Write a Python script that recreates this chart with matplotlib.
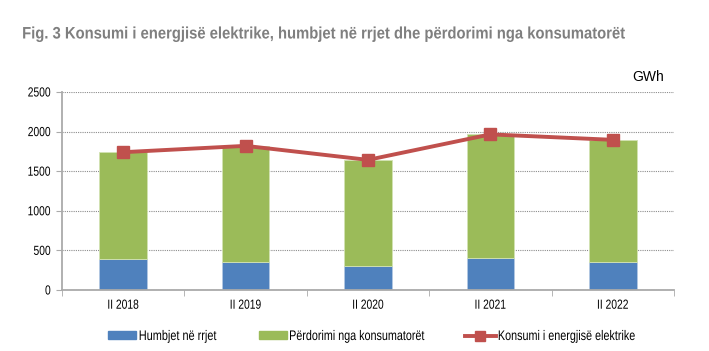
import matplotlib
matplotlib.use("Agg")
import matplotlib.pyplot as plt
from matplotlib.lines import Line2D
from matplotlib.patches import Patch
from matplotlib.patheffects import AbstractPathEffect
from matplotlib.transforms import Affine2D
import numpy as np

categories = ["II 2018", "II 2019", "II 2020", "II 2021", "II 2022"]
losses = [387, 357, 307, 399, 357]
usage = [1353, 1463, 1336, 1566, 1539]
consumption = [1740, 1820, 1643, 1965, 1896]
yticks = [0, 500, 1000, 1500, 2000, 2500]
legend_labels = ["Humbjet në rrjet", "Përdorimi nga konsumatorët", "Konsumi i energjisë elektrike"]
title_text = "Fig. 3 Konsumi i energjisë elektrike, humbjet në rrjet dhe përdorimi nga konsumatorët"

plt.rcParams['font.family'] = ['Liberation Sans', 'DejaVu Sans']

W, H = 709, 351


class Squeeze(AbstractPathEffect):
    """Horizontally condense the glyphs (Arial Narrow look)."""
    def __init__(self, sx, anchor='left'):
        super().__init__()
        self.sx = sx
        self.anchor = anchor

    def draw_path(self, renderer, gc, tpath, affine, rgbFace=None):
        bb = tpath.get_extents(affine)
        x0 = {'left': bb.x0, 'center': 0.5 * (bb.x0 + bb.x1), 'right': bb.x1}[self.anchor]
        new = affine + Affine2D().translate(-x0, 0).scale(self.sx, 1).translate(x0, 0)
        renderer.draw_path(gc, tpath, new, rgbFace)


fig = plt.figure(figsize=(W / 100, H / 100), dpi=100)
ax = fig.add_axes([62 / W, 1 - 290 / H, 612 / W, (290 - 92) / H])

x = np.arange(len(categories))
blue = "#4F81BD"; green = "#9BBB59"; red = "#C0504D"
ax.bar(x, losses, width=0.39, color=blue, edgecolor="#b3c8e2", linewidth=0.6, zorder=2)
ax.bar(x, usage, bottom=losses, width=0.39, color=green, edgecolor="#d3e3b3", linewidth=0.6, zorder=2)
ax.plot(x, consumption, color=red, linewidth=2.8, marker="s", markersize=8.5, zorder=3)

ax.set_xlim(-0.5, len(categories) - 0.5)
ax.set_ylim(0, 2500)
ax.set_yticks(yticks)
ax.set_yticklabels([str(v) for v in yticks], fontsize=9.5)
ax.set_xticks(x)
ax.set_xticklabels(categories, fontsize=9.5)
for t in ax.get_yticklabels():
    t.set_path_effects([Squeeze(0.78, 'right')])
for t in ax.get_xticklabels():
    t.set_path_effects([Squeeze(0.78, 'center')])
ax.set_xticks(np.arange(len(categories) + 1) - 0.5, minor=True)
ax.tick_params(axis='x', which='major', length=0, pad=7)
ax.tick_params(axis='x', which='minor', length=4, color="#aaaaaa", direction='out')
ax.tick_params(axis='y', length=4, color="#aaaaaa", direction='out', pad=4)
ax.yaxis.grid(True, linestyle=(0, (1, 1)), color="#8c8c8c", linewidth=0.8, zorder=0)
ax.set_axisbelow(True)
for s in ["top", "right"]:
    ax.spines[s].set_visible(False)
for s in ["left", "bottom"]:
    ax.spines[s].set_color("#aaaaaa")
    ax.spines[s].set_linewidth(1.3)

title = fig.text(22 / W, 1 - 34 / H, title_text, fontsize=12, fontweight='bold',
                 color="#7f7f7f", va='center', ha='left')
fig.text(632 / W, 1 - 77 / H, "GWh", fontsize=10, va='center', ha='left')

handles = [Patch(color=blue), Patch(color=green),
           Line2D([0], [0], color=red, linewidth=2.8, marker="s", markersize=7.5)]
handle_left = [108, 259, 465]
text_target = [78, 136, 138]
handle_len = [2.05, 2.0, 2.2]
legends = []
for h, lab, xl, hl in zip(handles, legend_labels, handle_left, handle_len):
    lg = fig.legend(handles=[h], labels=[lab], loc='center left', bbox_to_anchor=(xl / W, 1 - 336 / H),
                    frameon=False, fontsize=10, borderpad=0, borderaxespad=0, handlelength=hl,
                    handleheight=0.5, handletextpad=0.15)
    legends.append(lg)

# condense texts to the reference widths
fig.canvas.draw()
r = fig.canvas.get_renderer()
w = title.get_window_extent(r).width
title.set_path_effects([Squeeze(600 / w, 'left')])
for lg, tw in zip(legends, text_target):
    t = lg.get_texts()[0]
    wt = t.get_window_extent(r).width
    t.set_path_effects([Squeeze(tw / wt, 'left')])

fig.savefig("out.png", dpi=100)
